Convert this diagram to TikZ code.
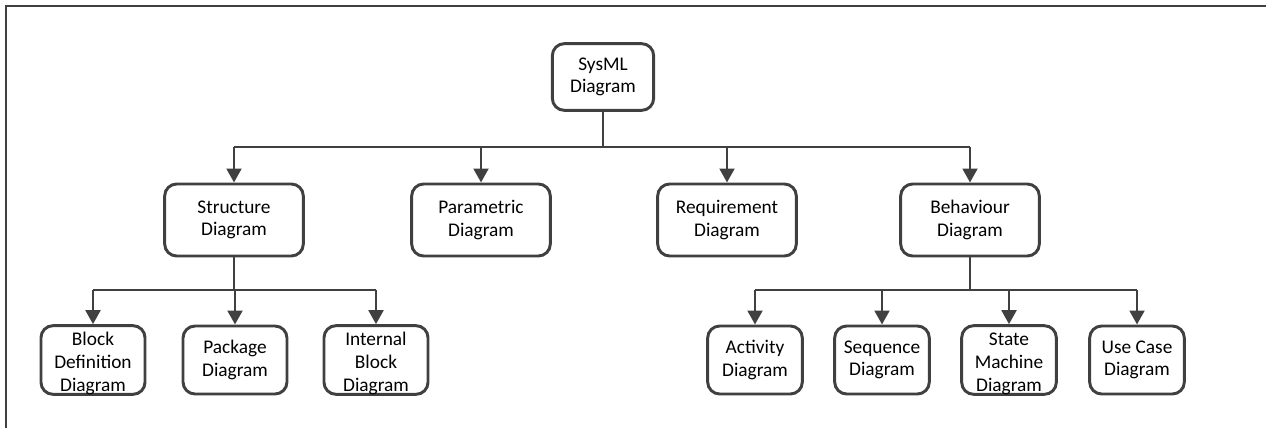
\documentclass[tikz,border=0pt]{standalone}
\usepackage{fontspec}
\setmainfont{Carlito}
\usetikzlibrary{arrows.meta}
\definecolor{edge}{HTML}{404040}
% taller first line: pushes a three-line label a little lower in its box
\newcommand{\lowstart}{\rule{0pt}{15pt}}
\tikzset{
  box/.style={draw=edge, line width=2.2pt, rounded corners=9pt, fill=white,
    align=center, inner sep=0pt, font=\fontsize{14.5}{17}\selectfont},
  topbox/.style={box, minimum width=76pt, minimum height=50pt},
  midbox/.style={box, minimum width=104pt, minimum height=54pt},
  leafL/.style={box, minimum width=78pt, minimum height=51pt},
  leafR/.style={box, minimum width=71pt, minimum height=51pt},
  link/.style={draw=edge, line width=2.2pt},
  arrow/.style={link, -{Triangle[length=10.5pt,width=11pt]}},
}
\begin{document}
\begin{tikzpicture}[x=0.75pt,y=-0.75pt]
\useasboundingbox (0,0) rectangle (1266,428);
% frame
\draw[link] (6,428) -- (6,6) -- (1266,6);

% root
\node[topbox] (root) at (603,77) {SysML\\Diagram};

% second level
\node[midbox] (str) at (234,220) {Structure\\Diagram};
\node[midbox] (par) at (481,220) {Parametric\\Diagram};
\node[midbox] (req) at (727,220) {Requirement\\Diagram};
\node[midbox] (beh) at (970,220) {Behaviour\\Diagram};

% third level, structure side
\node[leafL] (bdd) at (93,360) {\lowstart Block\\Definition\\Diagram};
\node[leafL] (pkg) at (235,360) {Package\\Diagram};
\node[leafL] (ibd) at (376,360) {\lowstart Internal\\Block\\Diagram};

% third level, behaviour side
\node[leafR] (act) at (755,360) {Activity\\Diagram};
\node[leafR] (seq) at (882,360) {Sequence\\Diagram};
\node[leafR] (stm) at (1009,360) {\lowstart State\\Machine\\Diagram};
\node[leafR] (uc)  at (1137,360) {Use Case\\Diagram};

% root bus
\coordinate (rb) at (603,147);
\draw[link] (root.south) -- (rb);
\draw[link] (str.north |- rb) -- (beh.north |- rb);
\foreach \n in {str,par,req,beh} \draw[arrow] (\n.north |- rb) -- (\n.north);

% structure bus
\coordinate (sb) at (234,290);
\draw[link] (str.south) -- (sb);
\draw[link] (bdd.north |- sb) -- (ibd.north |- sb);
\foreach \n in {bdd,pkg,ibd} \draw[arrow] (\n.north |- sb) -- (\n.north);

% behaviour bus
\coordinate (bb) at (970,290);
\draw[link] (beh.south) -- (bb);
\draw[link] (act.north |- bb) -- (uc.north |- bb);
\foreach \n in {act,seq,stm,uc} \draw[arrow] (\n.north |- bb) -- (\n.north);
\end{tikzpicture}
\end{document}
